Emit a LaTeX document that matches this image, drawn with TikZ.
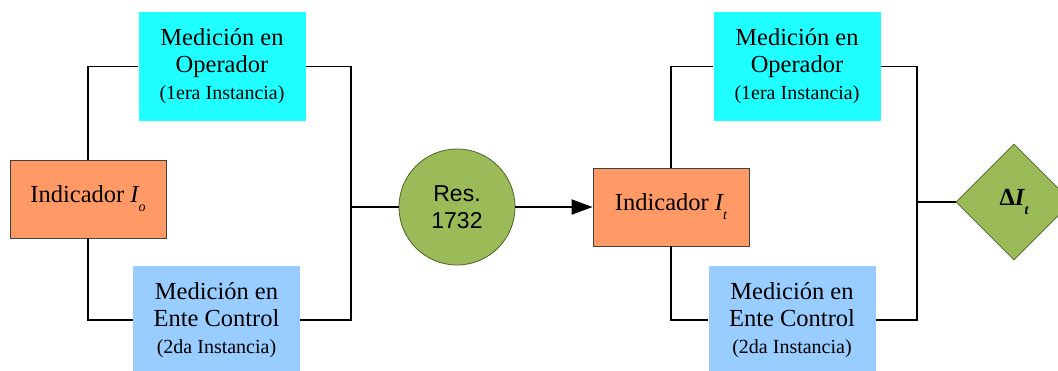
\documentclass[tikz,border=0pt]{standalone}
\usepackage{fontspec}
\setmainfont{Liberation Serif}
\setsansfont{Liberation Sans}
\usetikzlibrary{arrows.meta,shapes.geometric}

\definecolor{opcyan}{HTML}{1FFFFF}
\definecolor{enteblue}{HTML}{99CCFF}
\definecolor{indorange}{HTML}{FF9966}
\definecolor{resgreen}{HTML}{9BBB59}
\definecolor{resedge}{HTML}{4F6228}

% lowered italic index, as in I_o
\newcommand{\idx}[1]{\raisebox{-9pt}{\fontsize{14}{14}\selectfont\itshape #1}}
\newcommand{\inst}[1]{{\fontsize{20}{24}\selectfont #1}}

\tikzset{
  medbox/.style={inner sep=0pt, minimum width=167pt, minimum height=109pt,
    align=center, font=\fontsize{24.5}{27}\selectfont},
  indbox/.style={draw=black!75, fill=indorange, line width=0.8pt, inner sep=0pt,
    minimum width=156pt, minimum height=78pt, font=\fontsize{24.5}{27}\selectfont},
  link/.style={line width=1.3pt},
  flow/.style={line width=1.8pt},
}

\begin{document}
\begin{tikzpicture}[x=1pt,y=-1pt]
			\clip (0,0) rectangle (1058,370);

			% first stage
			\node[indbox] (ioL) at (88,199) {Indicador {\itshape I}\idx{o}};
			\node[medbox, fill=opcyan] (opL) at (222,66.5)
				{Medición en\\Operador\\\inst{(1era Instancia)}};
			\node[medbox, fill=enteblue] (enL) at (216.5,320)
				{Medición en\\Ente Control\\\inst{(2da Instancia)}};
			\node[circle, draw=resedge, fill=resgreen, line width=0.8pt, inner sep=0pt,
				minimum size=116pt, align=center, font=\sffamily\fontsize{23}{27}\selectfont]
				(res) at (457,207) {Res.\\1732};

			% second stage
			\node[indbox] (ioR) at (671,207) {Indicador {\itshape I}\idx{t}};
			\node[medbox, fill=opcyan] (opR) at (797,66.5)
				{Medición en\\Operador\\\inst{(1era Instancia)}};
			\node[medbox, fill=enteblue] (enR) at (792,320)
				{Medición en\\Ente Control\\\inst{(2da Instancia)}};
			\node[diamond, aspect=1, draw=resedge, fill=resgreen, line width=0.6pt, inner sep=0pt,
				minimum size=116pt, font=\bfseries\fontsize{24.5}{27}\selectfont]
				(delta) at (1014,202) {Δ{\itshape I}\idx{t}};

			\coordinate (jL) at (351,207);
			\coordinate (jR) at (917,202);

			\draw[link] (ioL.north) |- (opL.west);
			\draw[link] (ioL.south) |- (enL.west);
			\draw[link] (opL.east) -| (jL);
			\draw[link] (enL.east) -| (jL);
			\draw[flow] (jL) -- (res.west);
			\draw[flow, -{Triangle[length=21pt,width=15pt]}] (res.east) -- (ioR.west);

			\draw[link] (ioR.north) |- (opR.west);
			\draw[link] (ioR.south) |- (enR.west);
			\draw[link] (opR.east) -| (jR);
			\draw[link] (enR.east) -| (jR);
			\draw[link] (jR) -- (delta.west);
		\end{tikzpicture}
\end{document}
